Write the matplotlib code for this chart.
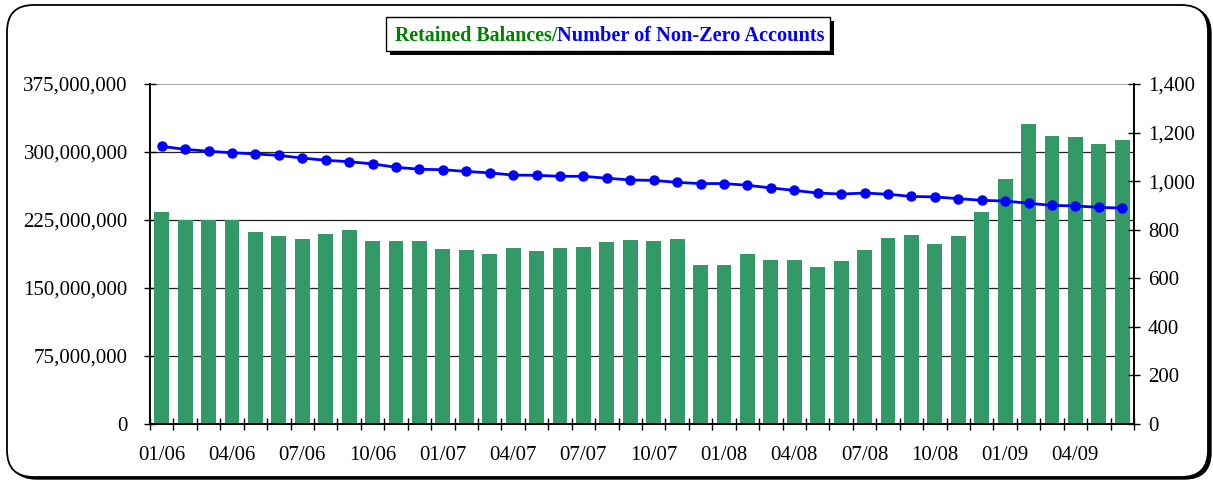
import matplotlib.pyplot as plt
from matplotlib.patches import FancyBboxPatch, Rectangle
from matplotlib.ticker import FuncFormatter, MultipleLocator, FixedLocator

# Retained balances (in millions) and number of non-zero accounts, 01/06 .. 06/09
months = ['01/06', '02/06', '03/06', '04/06', '05/06', '06/06', '07/06', '08/06', '09/06',
          '10/06', '11/06', '12/06', '01/07', '02/07', '03/07', '04/07', '05/07', '06/07',
          '07/07', '08/07', '09/07', '10/07', '11/07', '12/07', '01/08', '02/08', '03/08',
          '04/08', '05/08', '06/08', '07/08', '08/08', '09/08', '10/08', '11/08', '12/08',
          '01/09', '02/09', '03/09', '04/09', '05/09', '06/09']
balances_m = [233.8, 224.8, 224.8, 224.8, 211.8, 207.4, 204.0, 209.6, 214.0,
              201.8, 201.8, 201.8, 193.0, 191.9, 187.5, 194.1, 190.8, 194.1,
              195.2, 200.7, 202.9, 201.8, 204.0, 175.4, 175.4, 187.5, 180.9,
              180.9, 173.2, 179.8, 191.9, 205.1, 208.5, 198.5, 207.4, 233.8,
              270.2, 330.9, 317.6, 316.5, 308.8, 313.2]
accounts = [1143, 1131, 1123, 1117, 1112, 1106, 1095, 1086, 1080,
            1071, 1057, 1049, 1047, 1040, 1034, 1025, 1024, 1020,
            1020, 1012, 1005, 1003, 995, 990, 990, 983, 972,
            962, 951, 947, 951, 946, 937, 935, 928, 921,
            918, 909, 900, 898, 892, 889]

plt.rcParams['font.family'] = 'Liberation Serif'

W, H = 1213, 483
fig = plt.figure(figsize=(W / 100, H / 100), dpi=100)

# outer rounded frame with a small shadow
shadow = FancyBboxPatch((10 / W, 4 / H), 1201 / W, 472 / H,
                        boxstyle='round,pad=0,rounding_size=0.022',
                        transform=fig.transFigure, facecolor='black',
                        edgecolor='black', mutation_aspect=W / H, zorder=0)
frame = FancyBboxPatch((7 / W, 6 / H), 1201 / W, 472 / H,
                       boxstyle='round,pad=0,rounding_size=0.022',
                       transform=fig.transFigure, facecolor='white',
                       edgecolor='black', linewidth=1.3, mutation_aspect=W / H, zorder=1)
fig.patches.extend([shadow, frame])

ax = fig.add_axes([150 / W, (H - 424) / H, (1134 - 150) / W, (424 - 84) / H])
ax.set_zorder(2)
ax.patch.set_alpha(0)

x = list(range(len(months)))
ax.bar(x, [b * 1e6 for b in balances_m], width=0.64, color='#339966', zorder=2)
ax.set_xlim(-0.5, len(months) - 0.5)
ax.set_ylim(0, 375e6)
ax.yaxis.set_major_locator(MultipleLocator(75e6))
ax.yaxis.set_major_formatter(FuncFormatter(lambda v, p: f'{v:,.0f}'))
for v in [75e6, 150e6, 225e6, 300e6]:
    ax.axhline(v, color='#222222', linewidth=0.9, zorder=1)
ax.axhline(375e6, color='#999999', linewidth=1.2, zorder=1)

ax.spines['top'].set_visible(False)
for s in ['left', 'right', 'bottom']:
    ax.spines[s].set_linewidth(1.2)

ax.xaxis.set_major_locator(FixedLocator(x[::3]))
ax.set_xticklabels(months[::3])
ax.xaxis.set_minor_locator(FixedLocator([i - 0.5 for i in range(len(months) + 1)]))
ax.tick_params(axis='x', which='major', length=0, pad=16, labelsize=15)
ax.tick_params(axis='x', which='minor', direction='inout', length=8, width=1)
ax.tick_params(axis='y', direction='inout', length=8, width=1, pad=12, labelsize=15)

ax2 = ax.twinx()
ax2.plot(x, accounts, color='#0000FF', linewidth=2, marker='o', markersize=6.5, zorder=3)
ax2.set_ylim(0, 1400)
ax2.yaxis.set_major_locator(MultipleLocator(200))
ax2.yaxis.set_major_formatter(FuncFormatter(lambda v, p: f'{v:,.0f}'))
ax2.tick_params(axis='y', direction='inout', length=8, width=1, pad=6, labelsize=15)
ax2.spines['top'].set_visible(False)
for s in ['left', 'right', 'bottom']:
    ax2.spines[s].set_linewidth(1.2)

# title box with shadow
fig.patches.append(Rectangle((390 / W, (H - 55) / H), 444 / W, 34 / H,
                             transform=fig.transFigure, facecolor='black', zorder=3))
fig.patches.append(Rectangle((386 / W, (H - 51) / H), 444 / W, 34 / H,
                             transform=fig.transFigure, facecolor='white',
                             edgecolor='black', linewidth=1, zorder=4))
split = 557 / W
fig.text(split, (H - 36) / H, 'Retained Balances/', color='#008000', fontsize=14.4,
         fontweight='bold', ha='right', va='center', zorder=5)
fig.text(split, (H - 36) / H, 'Number of Non-Zero Accounts', color='#0000FF', fontsize=14.6,
         fontweight='bold', ha='left', va='center', zorder=5)

fig.savefig('out.png', dpi=100)
